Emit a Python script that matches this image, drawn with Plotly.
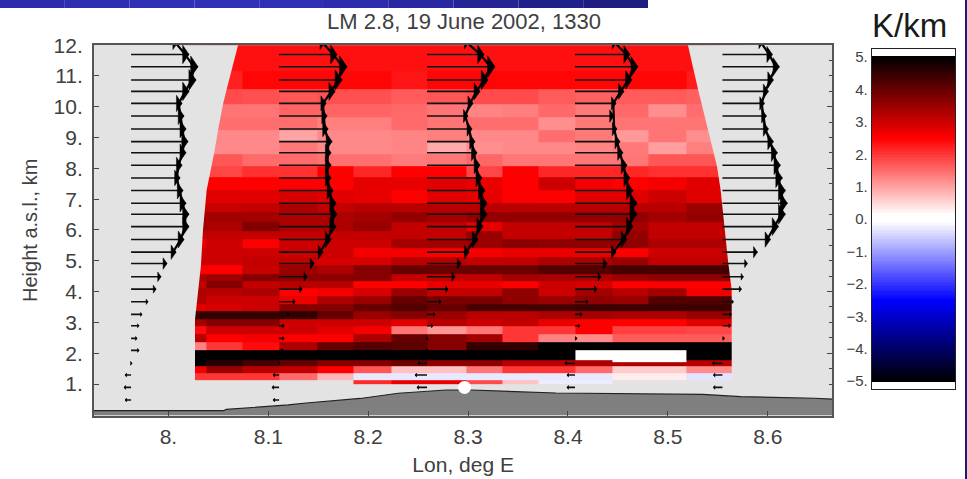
import plotly.graph_objects as go

nan = None
FONT = "Liberation Sans"
INK = "#404040"

# ---------- lapse-rate field (K/km), rows from top to bottom ----------
row_edges_km = [12.0, 11.162, 10.578, 10.091, 9.669, 9.247, 8.857, 8.468, 8.078, 7.721, 7.299, 6.877,
                6.584, 6.260, 5.968, 5.708, 5.416, 5.107, 4.864, 4.571, 4.344, 4.101, 3.857, 3.597,
                3.370, 3.094, 2.883, 2.623, 2.364, 2.104, 1.779, 1.698, 1.584, 1.357, 1.130, 1.000]
col_edges_lon = [8.000, 8.0376, 8.0741, 8.1113, 8.1490, 8.1854, 8.2230, 8.2597, 8.2979, 8.3340,
                 8.3708, 8.4073, 8.4447, 8.4808, 8.5188, 8.5549, 8.5925]
lapse_rate = [
    [2.35, 2.35, 2.35, 2.35, 2.35, 2.35, 2.35, 2.35, 2.35, 2.35, 2.35, 2.35, 2.35, 2.35, 2.35, 2.35],
    [2.2, 2.2, 2.45, 2.45, 2.45, 2.45, 2.3, 2.45, 2.45, 2.45, 2.45, 2.45, 2.45, 2.45, 2.25, 2.25],
    [1.8, 1.8, 1.75, 1.7, 1.75, 1.75, 1.65, 1.7, 1.8, 1.8, 1.65, 1.6, 1.65, 1.65, 1.6, 1.6],
    [1.42, 1.42, 1.42, 1.57, 1.57, 1.57, 1.52, 1.42, 1.27, 1.32, 1.52, 1.37, 1.52, 1.17, 1.47, 1.47],
    [1.47, 1.47, 1.47, 1.47, 1.32, 1.32, 1.52, 1.42, 1.47, 1.47, 1.17, 1.37, 1.42, 1.42, 1.42, 1.42],
    [1.22, 1.22, 1.22, .97, 1.22, 1.22, 1.27, 1.32, 1.22, 1.22, 1.47, 1.37, 1.07, 1.42, 1.17, 1.17],
    [1.22, 1.22, 1.22, 1.37, 1.22, 1.22, 1.27, .92, 1.17, 1.22, 1.22, 1.27, 1.37, 1.02, 1.32, 1.32],
    [1.7, 1.7, 1.5, 1.5, 1.45, 1.45, 1.35, 1.4, 1.55, 1.4, 1.4, 1.4, 1.4, 1.7, 1.7, 1.7],
    [1.85, 1.85, 2.05, 2.05, 2.5, 2.15, 2.5, 2.5, 1.85, 2.5, 2.15, 2.15, 2.15, 2.05, 2.05, 2.05],
    [2.5, 2.5, 2.5, 2.5, 2.5, 2.75, 2.75, 2.8, 2.7, 2.5, 3.0, 2.6, 2.5, 2.6, 2.8, 2.8],
    [2.8, 2.8, 2.8, 2.9, 2.8, 2.75, 2.5, 2.8, 2.75, 2.55, 2.5, 2.8, 2.8, 3.0, 2.8, 2.8],
    [3.05, 3.05, 3.1, 3.3, 3.1, 3.2, 3.2, 3.2, 3.2, 3.2, 3.2, 3.2, 3.2, 3.2, 3.5, 3.5],
    [3.4, 3.4, 3.4, 3.3, 3.3, 3.4, 3.55, 3.4, 3.55, 3.55, 3.55, 3.55, 3.55, 3.4, 3.55, 3.55],
    [3.4, 3.3, 3.75, 3.3, 3.3, 3.5, 3.1, 3.1, 2.75, 3.1, 3.1, 3.1, 3.4, 3.1, 3.1, 3.1],
    [3.1, 3.1, 3.1, 3.1, 3.1, 3.1, 3.1, 3.1, 3.5, 3.1, 3.1, 3.1, 3.55, 3.1, 3.1, 3.1],
    [2.7, 3.0, 2.55, 3.0, 3.0, 3.0, 3.4, 3.4, 3.5, 3.65, 3.6, 3.6, 3.6, 3.3, 3.3, 3.3],
    [3.0, 3.0, 3.0, 3.0, 3.0, 2.6, 2.6, 2.55, 2.6, 2.7, 2.7, 2.7, 2.55, 3.0, 3.0, 3.0],
    [3.0, 3.0, 3.1, 3.1, 2.9, 2.9, 3.2, 3.2, 3.1, 3.1, 3.3, 3.3, 3.5, 3.1, 3.1, 3.1],
    [2.5, 2.5, 3.05, 3.5, 3.3, 3.7, 4.0, 3.95, 3.95, 3.95, 4.2, 4.2, 4.3, 4.3, 4.3, 4.3],
    [3.3, 3.45, 3.7, 3.6, 3.65, 3.7, 3.1, 3.1, 3.1, 3.4, 3.3, 3.3, 3.5, 3.6, 3.6, 3.6],
    [3.1, 3.7, 3.1, 3.2, 3.2, 2.5, 2.5, 2.75, 2.75, 2.5, 3.0, 2.9, 2.5, 2.55, 2.5, 2.5],
    [3.3, 3.2, 3.3, 2.5, 2.6, 2.9, 3.5, 3.1, 3.1, 3.6, 3.0, 3.4, 3.2, 3.4, 2.6, 2.6],
    [3.2, 3.0, 3.0, 2.7, 3.3, 3.5, 4.0, 3.8, 3.8, 3.6, 3.5, 3.6, 3.5, 4.2, 4.2, 4.2],
    [2.8, 2.9, 3.0, 3.7, 3.7, 4.0, 4.2, 4.0, 4.3, 4.3, 4.3, 4.4, 4.4, 4.4, 4.4, 4.4],
    [4.5, 4.5, 4.5, 4.5, 4.0, 3.5, 3.7, 3.5, 3.2, 3.2, 3.3, 3.4, 3.3, 3.3, 3.5, 3.5],
    [3.4, 3.7, 3.7, 3.0, 3.0, 3.0, 2.8, 3.2, 3.0, 3.1, 2.7, 2.5, 2.5, 2.5, 2.8, 2.8],
    [2.4, 3.0, 3.0, 3.0, 2.8, 2.6, 1.4, 1.1, 1.4, 2.0, 2.0, 2.5, 1.9, 1.9, 1.85, 1.85],
    [3.2, 2.5, 2.6, 2.5, 2.5, 3.3, 4.0, 3.7, 3.4, 2.0, 1.3, 1.2, 1.65, 1.65, 1.65, 1.65],
    [1.3, 2.0, 2.4, 3.3, 4.0, 4.2, 4.1, 3.7, 4.5, 4.5, 5.0, 5.0, 5.0, 5.0, 5.0, 5.0],
    [5.0, 5.0, 5.0, 5.0, 5.0, 5.0, 5.0, 5.0, 5.0, 5.0, 5.0, 5.2, 5.2, 5.2, 5.0, 5.0],
    [5.0, 4.6, 4.3, 4.0, 3.7, 3.7, 3.9, 3.6, 3.6, 3.2, 3.2, 3.3, 5.2, 5.2, 3.2, 3.2],
    [5.0, 4.6, 4.3, 4.0, 3.7, 3.7, 3.9, 3.6, 3.6, 3.2, 3.2, 3.3, 3.3, 3.3, 3.2, 3.2],
    [2.6, 3.5, 3.2, 3.1, 2.5, 1.7, .7, .7, 1.4, 2.0, 2.0, 1.5, .6, .6, 1.2, 1.2],
    [2.0, 2.0, 2.0, 1.5, .8, -.3, -.3, -.3, -.3, -.3, -.3, -.3, .3, .3, -.35, -.35],
    [nan, nan, nan, nan, nan, 2.1, 2.7, 2.7, 1.8, .7, -.25, -.25, nan, nan, nan, nan],
]

# ---------- model domain edges ----------
left_edge_km = [12.0, 10.578, 10.091, 9.247, 8.468, 7.299, 6.0, 4.864, 4.05, 3.08, 1.0]
left_edge_lon = [8.0697, 8.0584, 8.0547, 8.0497, 8.0456, 8.0383, 8.0346, 8.0326, 8.0296, 8.0266, 8.0266]
right_edge_km = [12.0, 10.578, 9.247, 8.078, 7.299, 6.13, 5.0, 4.05, 1.0]
right_edge_lon = [8.5201, 8.5301, 8.5401, 8.5491, 8.5528, 8.5562, 8.5602, 8.5639, 8.5639]

# ---------- terrain ----------
terrain_lon = [7.9255, 8.055, 8.058, 8.093, 8.120, 8.138, 8.167, 8.192, 8.230, 8.278, 8.303, 8.352,
               8.388, 8.535, 8.573, 8.647, 8.6646]
terrain_km = [.133, .133, .175, .244, .32, .383, .47, .53, .70, .805, .805, .75, .708, .66, .59, .538, .51]
station_lon = [8.2964]
station_km = [0.89]

# ---------- wind profiles ----------
wind_km = [12.10, 11.70, 11.30, 10.87, 10.50, 10.11, 9.70, 9.28, 8.87, 8.51, 8.10, 7.69, 7.28, 6.87, 6.51,
           6.11, 5.69, 5.28, 4.91, 4.48, 4.08, 3.67, 3.26, 2.89, 2.48, 2.09, 1.67, 1.29, 0.89, 0.48]
profile_lon = [7.9626, 8.1108, 8.2589, 8.4070, 8.5546]
wind_1 = [47, 58, 67, 65, 58, 51, 53, 55, 57, 55, 51, 49, 52, 55, 58, 58, 53, 45, 36, 30, 25, 17, 11, 8, 6, 8, 1, -6, -7, -6]
wind_2 = [46, 58, 68, 63, 56, 47, 48, 49, 53, 52, 52, 52, 54, 57, 58, 57, 52, 44, 35, 28, 23, 16, 10, 5, 5, 4, 1, -6, -7, -6]
wind_3 = [42, 57, 68, 61, 53, 46, 41, 45, 48, 50, 53, 55, 58, 60, 60, 56, 51, 42, 34, 28, 21, 14, 8, 6, 1, 1, -9, -12, -10, nan]
wind_4 = [42, 55, 63, 57, 49, 41, 39, 42, 45, 48, 52, 55, 58, 62, 62, 58, 52, 41, 32, 26, 22, 13, 7, 5, 2, 0, -10, -8, -8, nan]
wind_5 = [41, 50, 57, 51, 46, 42, 44, 46, 51, 55, 58, 60, 63, 65, 63, 56, 48, 35, 25, 21, 19, 11, 9, 8, 2, 0, -10, -9, -9, nan]
profiles = [wind_1, wind_2, wind_3, wind_4, wind_5]

# ---------- labels ----------
lon_ticks = [8.0, 8.1, 8.2, 8.3, 8.4, 8.5, 8.6]
lon_labels = ["8.", "8.1", "8.2", "8.3", "8.4", "8.5", "8.6"]
km_ticks = [1, 2, 3, 4, 5, 6, 7, 8, 9, 10, 11, 12]
km_labels = ["1.", "2.", "3.", "4.", "5.", "6.", "7.", "8.", "9.", "10.", "11.", "12."]
bar_ticks = [-5, -4, -3, -2, -1, 0, 1, 2, 3, 4, 5]
bar_labels = ["\u22125.", "\u22124.", "\u22123.", "\u22122.", "\u22121.", "0.", "1.", "2.", "3.", "4.", "5."]
banner_colors = ["#2c2cac", "#2e2eb2", "#3030b6", "#3131b8", "#3030b6", "#2c2cac", "#2828a0", "#242494", "#20208a", "#1e1e82"]

# ---------- scales ----------
LIM = 5.24
def frac(v):
    return (v + LIM) / (2 * LIM)
colorscale = [[0, "#ffffff"], [frac(-5.02), "#ffffff"], [frac(-5), "#000000"], [frac(-2.5), "#0000ff"],
              [frac(-0.08), "#ffffff"], [frac(0.12), "#ffffff"], [frac(2.5), "#ff0000"], [frac(5), "#000000"],
              [frac(5.02), "#ffffff"], [1, "#ffffff"]]
bar_levels = [i * 0.05 - 5.25 for i in range(211)]

PX_LON = 999.0
PX_KM = 30.8
XR = [7.9255, 8.6646]
YR = [-0.026, 12.006]

fig = go.Figure()
fig.add_trace(go.Heatmap(x=col_edges_lon, y=row_edges_km[::-1], z=lapse_rate[::-1], zmin=-LIM, zmax=LIM,
                         colorscale=colorscale, showscale=False, hoverongaps=False))

# grey masks outside the curved model domain
fig.add_trace(go.Scatter(x=[XR[0]] + left_edge_lon + [XR[0]], y=[12.006] + left_edge_km + [1.0],
                         mode="lines", line=dict(width=0), fill="toself", fillcolor="#e3e3e3"))
fig.add_trace(go.Scatter(x=[XR[1]] + right_edge_lon + [XR[1]], y=[12.006] + right_edge_km + [1.0],
                         mode="lines", line=dict(width=0), fill="toself", fillcolor="#e3e3e3"))

# terrain
fig.add_trace(go.Scatter(x=terrain_lon + [XR[1], XR[0]], y=terrain_km + [YR[0], YR[0]], mode="lines",
                         line=dict(width=0), fill="toself", fillcolor="#7f7f7f"))
fig.add_trace(go.Scatter(x=terrain_lon, y=terrain_km, mode="lines", line=dict(color="#222222", width=1.2)))

# arrows, with the line that joins the heads of the stronger winds
shaft_x, shaft_y, head_x, head_y, join_x, join_y = [], [], [], [], [], []
for lon0, us in zip(profile_lon, profiles):
    for km, u in zip(wind_km, us):
        if u is None or u == 0:
            continue
        tip = lon0 + u / PX_LON
        shaft_x += [lon0, tip, None]
        shaft_y += [km, km, None]
        length = max(abs(u) * 0.11, 1.5) * (1 if u > 0 else -1)
        half = max(abs(u) * 0.16, 2.0)
        head_x += [tip, tip - length / PX_LON, tip - length / PX_LON, tip, None]
        head_y += [km, km + half / PX_KM, km - half / PX_KM, km, None]
        if u >= 40:
            join_x.append(tip - length * 0.6 / PX_LON)
            join_y.append(km)
    join_x.append(None)
    join_y.append(None)
fig.add_trace(go.Scatter(x=shaft_x, y=shaft_y, mode="lines", line=dict(color="#101010", width=1.6)))
fig.add_trace(go.Scatter(x=join_x, y=join_y, mode="lines", line=dict(color="#000000", width=2.2)))
fig.add_trace(go.Scatter(x=head_x, y=head_y, mode="lines", line=dict(color="#000000", width=0.5),
                         fill="toself", fillcolor="#000000"))

# station, on the overlaying axis that carries the right-hand ticks
fig.add_trace(go.Scatter(x=station_lon, y=station_km, yaxis="y2", mode="markers",
                         marker=dict(color="#ffffff", size=13)))

# colour bar as its own small axes
fig.add_trace(go.Heatmap(x=[0, 1], y=bar_levels, z=[[v, v] for v in bar_levels], xaxis="x3", yaxis="y3",
                         zmin=-LIM, zmax=LIM, colorscale=colorscale, showscale=False))

W, H = 967.0, 479.0
tick_font = dict(family=FONT, size=21, color=INK)
axis_line = dict(showline=True, linecolor="#555555", linewidth=2, mirror=True)
shapes = [dict(type="rect", xref="paper", yref="paper", x0=i * 64.8 / W, x1=(i + 1) * 64.8 / W,
               y0=1 - 8 / H, y1=1.0, fillcolor=c, line_width=0) for i, c in enumerate(banner_colors)]
shapes.append(dict(type="rect", xref="paper", yref="paper", x0=965 / W, x1=1.0, y0=0.0, y1=1.0,
                   fillcolor="#1a1a70", line_width=0))

fig.update_layout(
    width=967, height=479, margin=dict(l=0, r=0, t=0, b=0, autoexpand=False), autosize=False,
    paper_bgcolor="#ffffff", plot_bgcolor="#e3e3e3", showlegend=False, shapes=shapes,
    font=dict(family=FONT, color=INK),
    title=dict(text="LM 2.8, 19 June 2002, 1330", x=464 / W, xanchor="center", y=1 - 21 / H, yanchor="middle",
               font=dict(family=FONT, size=22, color=INK)),
    xaxis=dict(domain=[94 / W, 832.3 / W], range=XR, tickvals=lon_ticks, ticktext=lon_labels, ticks="inside",
               ticklen=5, tickcolor="#444444", tickfont=tick_font, ticklabelstandoff=1, showgrid=False, zeroline=False,
               title=dict(text="Lon, deg E", font=dict(family=FONT, size=21, color=INK), standoff=11), **axis_line),
    yaxis=dict(domain=[1 - 415.6 / H, 1 - 45 / H], range=YR, tickvals=km_ticks, ticktext=km_labels, ticks="inside",
               ticklen=5, tickcolor="#444444", tickfont=tick_font, ticklabelstandoff=5, showgrid=False, zeroline=False,
               title=dict(text="Height a.s.l., km", font=dict(family=FONT, size=20, color=INK), standoff=11), **axis_line),
    yaxis2=dict(overlaying="y", side="right", anchor="x", range=YR, tick0=0, dtick=2, ticks="inside", ticklen=5,
                tickcolor="#444444", showticklabels=False, showgrid=False, zeroline=False,
                minor=dict(tick0=0, dtick=0.5, ticks="inside", ticklen=3, tickcolor="#444444", showgrid=False)),
    xaxis3=dict(domain=[871.7 / W, 955.3 / W], anchor="y3", range=[0, 1], showticklabels=False, ticks="",
                showgrid=False, zeroline=False, showline=True, linecolor="#222222", linewidth=1, mirror=True),
    yaxis3=dict(domain=[1 - 389 / H, 1 - 49.3 / H], anchor="x3", range=[-LIM, LIM], tickvals=bar_ticks,
                ticktext=bar_labels, ticks="", tickfont=dict(family=FONT, size=15, color=INK), showgrid=False,
                zeroline=False, showline=True, linecolor="#222222", linewidth=1, mirror=True),
    annotations=[dict(text="K/km", xref="paper", yref="paper", x=909.5 / W, y=1 - 25 / H, showarrow=False,
                      xanchor="center", yanchor="middle", font=dict(family=FONT, size=33, color="#1a1a1a"))],
)

fig.write_html("out.html", config={"displayModeBar": False}, post_script="document.body.style.margin='0';")
